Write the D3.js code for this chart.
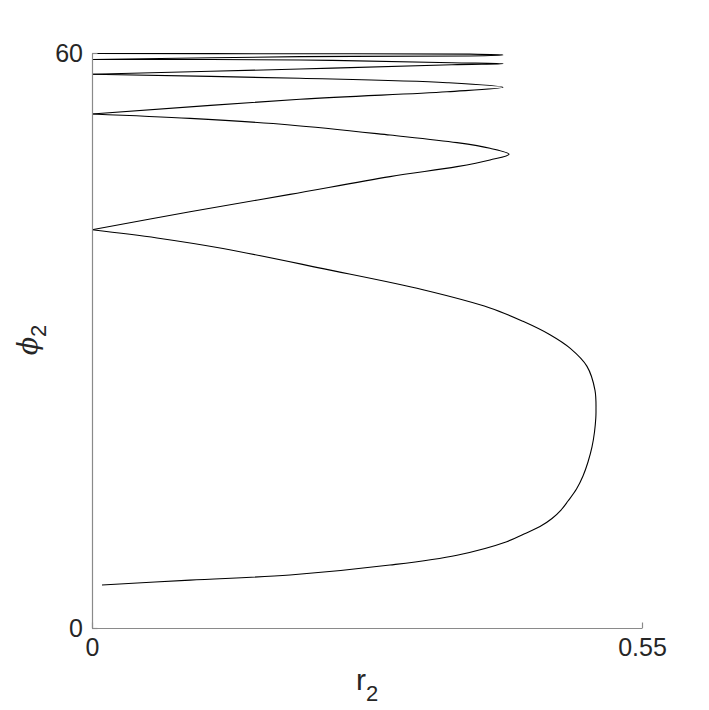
<!DOCTYPE html>
<html lang="en">
<head>
    <meta charset="UTF-8">
    <title>r2 vs phi2</title>
    <script src="https://d3js.org/d3.v7.min.js"></script>
    <style>
        body { margin: 0; background: #fff; }
        text { font-family: "Liberation Sans", Arial, sans-serif; fill: #262626; }
    </style>
</head>
<body>
    <div id="chart"></div>
    <script>

        // trajectory (r2 horizontal, phi2 vertical)
        const r2 = [
            0.010, 0.098, 0.198, 0.298, 0.365, 0.4147, 0.432, 0.448, 0.460, 0.469, 0.476, 0.4845,
            0.491, 0.496, 0.500, 0.5025, 0.5038, 0.504,
            0.503, 0.495, 0.478, 0.458, 0.431, 0.398, 0.331, 0.231, 0.131, 0.065, 0,
            0.098, 0.198, 0.298, 0.365, 0.398, 0.417, 0.398, 0.365, 0.298, 0.198, 0.098, 0,
            0.208, 0.355, 0.411, 0.355, 0.208, 0,
            0.208, 0.360, 0.411, 0.360, 0.208, 0,
            0.208, 0.378, 0.411, 0.378, 0.208, 0
        ];
        const phi2 = [
            4.49, 5.00, 5.53, 6.57, 7.60, 9.01, 9.81, 10.59, 11.43, 12.31, 13.25, 14.50,
            15.86, 17.32, 18.89, 20.45, 21.91, 22.60,
            24.80, 27.30, 29.20, 30.60, 32.00, 33.40, 35.30, 37.50, 39.60, 40.70, 41.55,
            43.44, 45.25, 47.10, 48.14, 48.84, 49.43, 50.06, 50.65, 51.44, 52.49, 53.18, 53.64,
            55.17, 55.96, 56.42, 56.90, 57.36, 57.78,
            58.33, 58.78, 58.89, 58.99, 59.27, 59.32,
            59.62, 59.69, 59.79, 59.88, 59.92, 59.95
        ];
        const xTicks = [0, 0.55];
        const yTicks = [0, 60];

        const width = 709;
        const height = 710;
        const plotLeft = 92, plotRight = 642, plotTop = 53, plotBottom = 628;
        const axisColor = "#8a8a8a";

        const x = d3.scaleLinear().domain([0, 0.55]).range([plotLeft, plotRight]);
        const y = d3.scaleLinear().domain([0, 60]).range([plotBottom, plotTop]);

        const svg = d3.select("#chart")
            .append("svg")
            .attr("width", width)
            .attr("height", height);

        // split the trajectory at the points where it touches r2 = 0,
        // so those corners stay sharp and only the turning tips are rounded
        const pts = r2.map((r, i) => ({ r: r, phi: phi2[i] }));
        const segs = [];
        let cur = [];
        pts.forEach(p => {
            cur.push(p);
            if (p.r === 0 && cur.length > 1) {
                segs.push(cur);
                cur = [p];
            }
        });
        if (cur.length > 1) segs.push(cur);

        const line = d3.line()
            .x(d => x(d.r))
            .y(d => y(d.phi))
            .curve(d3.curveCatmullRom.alpha(0.5));

        svg.append("g")
            .selectAll("path")
            .data(segs)
            .join("path")
            .attr("d", d => line(d))
            .attr("fill", "none")
            .attr("stroke", "#000")
            .attr("stroke-width", 1.1);

        // axes, ticks pointing inward
        const xAxis = d3.axisBottom(x).tickValues(xTicks).tickSize(-5.5).tickSizeOuter(0)
            .tickFormat(d => d === 0 ? "0" : d3.format(".2f")(d));
        const gx = svg.append("g")
            .attr("transform", `translate(0,${plotBottom})`)
            .call(xAxis);

        const yAxis = d3.axisLeft(y).tickValues(yTicks).tickSize(-5.5).tickSizeOuter(0)
            .tickFormat(d3.format("d"));
        const gy = svg.append("g")
            .attr("transform", `translate(${plotLeft},0)`)
            .call(yAxis);

        [gx, gy].forEach(g => {
            g.select(".domain").attr("stroke", axisColor).attr("stroke-width", 1.2);
            g.selectAll(".tick line").attr("stroke", axisColor).attr("stroke-width", 1.2);
            g.selectAll(".tick text")
                .attr("font-family", "Liberation Sans, Arial, sans-serif")
                .attr("font-size", 25)
                .attr("fill", "#262626");
        });
        gx.selectAll(".tick text").attr("y", 10).attr("dy", "0.71em");
        gy.selectAll(".tick text").attr("x", -9).attr("dy", "0.35em");

        // axis titles
        const xLabel = svg.append("text")
            .attr("x", 367)
            .attr("y", 690)
            .attr("text-anchor", "middle")
            .attr("font-size", 30);
        xLabel.append("tspan").text("r");
        xLabel.append("tspan").attr("dy", 11).attr("font-size", 22).text("2");

        const yLabel = svg.append("text")
            .attr("transform", "translate(37,340) rotate(-90)")
            .attr("text-anchor", "middle")
            .attr("font-size", 30);
        yLabel.append("tspan")
            .attr("font-family", "DejaVu Serif, serif")
            .attr("font-style", "italic")
            .attr("font-size", 27)
            .text("\u03D5");
        yLabel.append("tspan").attr("dy", 9).attr("font-size", 22).text("2");

    </script>
</body>
</html>
